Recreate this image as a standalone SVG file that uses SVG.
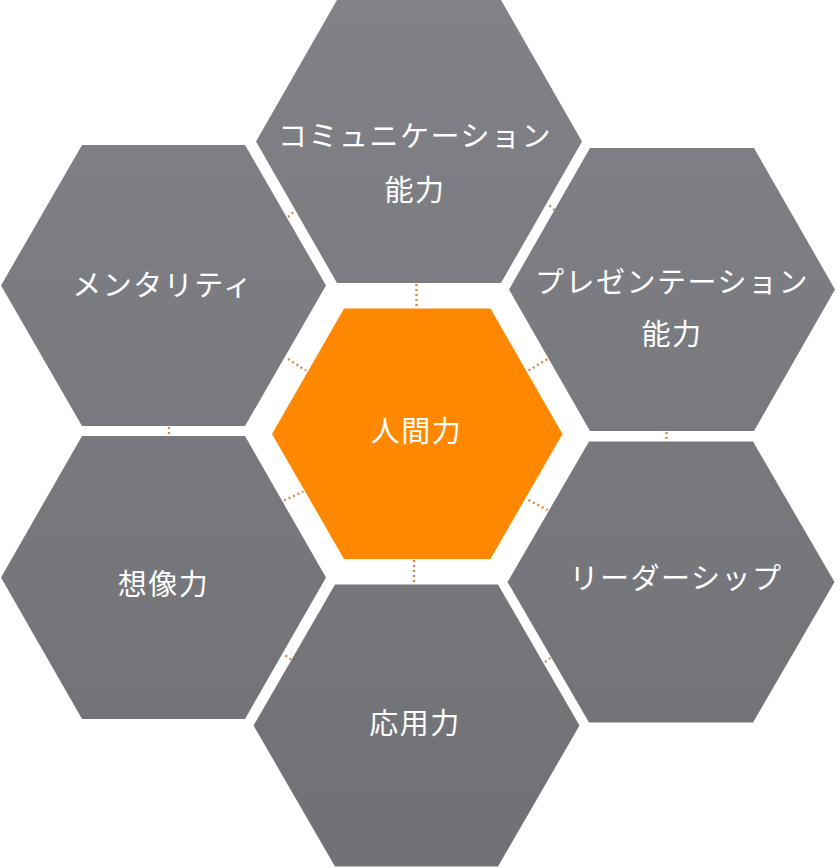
<svg xmlns="http://www.w3.org/2000/svg" width="836" height="868" viewBox="0 0 836 868">
<defs>
<linearGradient id="g" gradientUnits="userSpaceOnUse" x1="0" y1="0" x2="0" y2="868">
<stop offset="0" stop-color="#818287"/>
<stop offset="1" stop-color="#707175"/>
</linearGradient>
</defs>
<style>
.hex{fill:url(#g);}
.core{fill:#ff8800;}
.lbl{font-family:"Noto Sans CJK JP","Noto Sans CJK SC",sans-serif;font-size:29px;fill:#ffffff;text-anchor:middle;letter-spacing:1.5px;}
.dot{stroke:#d28a48;stroke-width:2.4;stroke-dasharray:2 3;fill:none;}
</style>
<rect width="836" height="868" fill="#ffffff"/>
<g id="n-top">
<polygon class="hex" points="256,141.5 337,0 501,0 582,141.5 501,283 337,283"/>
<text class="lbl" x="415" y="147">コミュニケーション</text>
<text class="lbl" x="415" y="201">能力</text>
</g>
<g id="n-mentality">
<polygon class="hex" points="1,285.5 82,145 245,145 326,285.5 245,426 82,426"/>
<text class="lbl" x="163" y="296">メンタリティ</text>
</g>
<g id="n-presentation">
<polygon class="hex" points="509,289.5 590,148 754,148 835,289.5 754,431 590,431"/>
<text class="lbl" x="672" y="293">プレゼンテーション</text>
<text class="lbl" x="672" y="345">能力</text>
</g>
<g id="n-center">
<polygon class="core" points="272,434 344,308.5 490.5,308.5 562.5,434 490.5,559 344,559"/>
<text class="lbl" x="416.5" y="442">人間力</text>
</g>
<g id="n-imagination">
<polygon class="hex" points="1,577.5 82,436 245,436 326,577.5 245,719 82,719"/>
<text class="lbl" x="163.5" y="595">想像力</text>
</g>
<g id="n-leadership">
<polygon class="hex" points="507.5,582 589,441.5 753,441.5 834.5,582 753,722.5 589,722.5"/>
<text class="lbl" x="676" y="589">リーダーシップ</text>
</g>
<g id="n-applied">
<polygon class="hex" points="253.5,725.5 335,584.5 498,584.5 579.5,725.5 498,866.5 335,866.5"/>
<text class="lbl" x="415" y="734">応用力</text>
</g>
<g id="connectors">
<line class="dot" x1="416.5" y1="284" x2="416.5" y2="308"/>
<line class="dot" x1="414" y1="560" x2="414" y2="584"/>
<line class="dot" x1="288" y1="359" x2="306" y2="370.5"/>
<line class="dot" x1="284" y1="500.5" x2="303.5" y2="491.5"/>
<line class="dot" x1="528.5" y1="370.5" x2="547.5" y2="359"/>
<line class="dot" x1="528.5" y1="500" x2="547.5" y2="510"/>
<line class="dot" x1="169" y1="427" x2="169" y2="436"/>
<line class="dot" x1="666.5" y1="432" x2="666.5" y2="441.5"/>
<line class="dot" x1="549.5" y1="205.5" x2="555" y2="210.5"/>
<line class="dot" x1="288" y1="217" x2="293.5" y2="212"/>
<line class="dot" x1="285.5" y1="655.5" x2="291" y2="659.5"/>
<line class="dot" x1="545" y1="662" x2="550.5" y2="658"/>
</g>
</svg>
